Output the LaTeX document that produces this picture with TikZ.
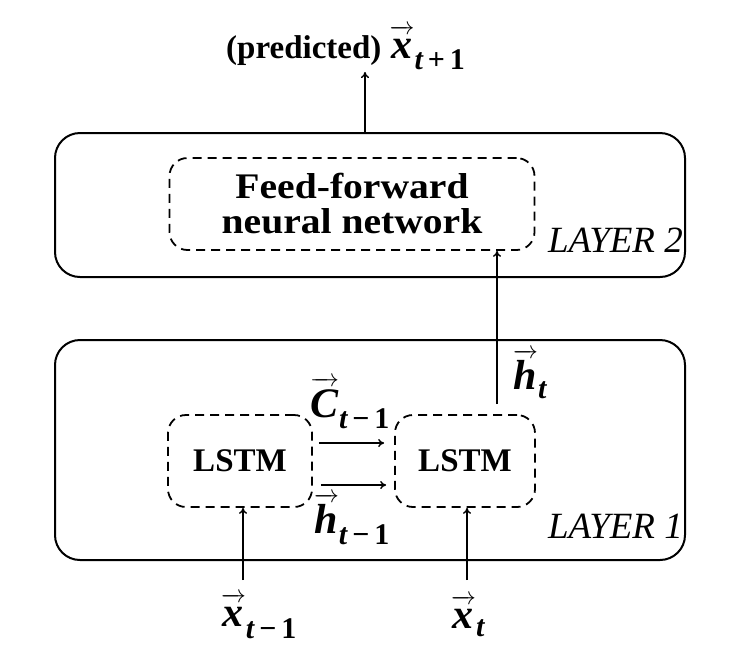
\documentclass[tikz,border=0pt]{standalone}
\usepackage{fontspec}
\setmainfont{Liberation Serif}
\newfontfamily\wideserif{Liberation Serif}[FakeStretch=1.1]
\usepackage{amsmath}
\usetikzlibrary{arrows.meta}
\newcommand{\mvec}[3][31pt]{$\overrightarrow{\text{\bfseries\itshape\rule{0pt}{#1}#2\kern1pt}}_{\text{\fontsize{30}{30}\selectfont\bfseries #3}}$}
\begin{document}
\begin{tikzpicture}[x=1pt,y=-1pt]
\tikzset{
  layerbox/.style={draw, line width=2pt, rounded corners=25pt},
  dbox/.style={draw, dash pattern=on 9pt off 6pt, line width=1.8pt, rounded corners=18pt, align=center},
  arr/.style={-{To[length=6pt,width=8pt]}, line width=1.4pt},
  lab/.style={font=\fontsize{33}{38}\selectfont\bfseries},
  fflab/.style={font=\wideserif\fontsize{36}{38}\selectfont\bfseries},
  mlab/.style={font=\fontsize{42}{46}\selectfont, inner sep=1pt},
  layerlab/.style={font=\fontsize{37}{40}\selectfont\itshape, anchor=east, inner sep=0pt}
}
\useasboundingbox (0,0) rectangle (733,657);
% layer boxes
\node[layerbox, minimum width=630pt, minimum height=144pt] (L2) at (370,205) {};
\node[layerbox, minimum width=630pt, minimum height=220pt] (L1) at (370,450) {};
% inner boxes
\node[dbox, fflab, minimum width=365pt, minimum height=92pt] (ff) at (352,204) {Feed-forward\\[-3pt]neural network};
\node[dbox, lab, minimum width=144pt, minimum height=92pt] (l1) at (240,461) {LSTM};
\node[dbox, lab, minimum width=140pt, minimum height=92pt] (l2) at (465,461) {LSTM};
% layer labels
\node[layerlab] (lay2) at (683,240) {LAYER 2};
\node[layerlab] (lay1) at (683,526) {LAYER 1};
% output
\node[lab, anchor=base west, inner sep=0pt] (pred) at (226,58) {(predicted) \fontsize{42}{46}\selectfont\mvec[24pt]{x}{{\itshape t}\,+\,1}};
\coordinate (p1) at (365,72);
\draw[arr] (L2.north -| p1) -- (p1);
% h_t
\coordinate (hs) at (497,404);
\draw[arr] (hs) -- (hs |- ff.south);
\node[mlab] (ht) at (530,374) {\mvec{h}{\itshape t}};
% recurrent arrows
\draw[arr] ([xshift=6pt,yshift=18pt]l1.east) -- ([xshift=-10pt,yshift=18pt]l2.west);
\draw[arr] ([xshift=8pt,yshift=-24pt]l1.east) -- ([xshift=-8pt,yshift=-24pt]l2.west);
\node[mlab] (ct) at (350,403) {\mvec{C}{{\itshape t}\,−\,1}};
\node[mlab] (htm) at (352,519) {\mvec{h}{{\itshape t}\,−\,1}};
% inputs
\coordinate (i1) at (243,580);
\coordinate (i2) at (467,580);
\draw[arr] (i1) -- (i1 |- l1.south);
\draw[arr] (i2) -- (i2 |- l2.south);
\node[mlab] (x1) at (259,616) {\mvec[24pt]{x}{{\itshape t}\,−\,1}};
\node[mlab] (x2) at (468,616) {\mvec[24pt]{x}{\itshape t}};
\end{tikzpicture}
\end{document}
